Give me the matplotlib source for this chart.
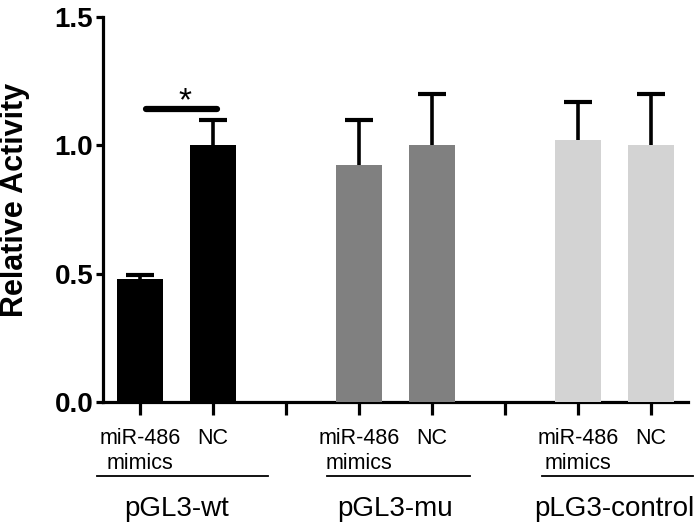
import matplotlib
matplotlib.use('Agg')
import matplotlib.pyplot as plt
import numpy as np

plt.rcParams['font.family'] = ['Liberation Sans', 'DejaVu Sans']

groups = ['pGL3-wt', 'pGL3-mu', 'pLG3-control']
conditions = ['miR-486\nmimics', 'NC']
means = [0.48, 1.00, 0.925, 1.00, 1.02, 1.00]
errs = [0.015, 0.10, 0.175, 0.20, 0.15, 0.20]
group_colors = ['#000000', '#808080', '#d3d3d3']

fig = plt.figure(figsize=(7, 5.28), dpi=100)
ax = fig.add_axes([0.147, 0.2386, 0.836, 0.7294])

# bars at 0,1 / 3,4 / 6,7 with an empty tick between groups
pos = []
cols = []
for g in range(len(groups)):
    for c in range(len(conditions)):
        pos.append(g * 3 + c)
        cols.append(group_colors[g])

ax.errorbar(pos, means, yerr=errs, fmt='none', ecolor='black',
            elinewidth=2.6, capsize=10, capthick=3, zorder=2)
ax.bar(pos, means, width=0.64, color=cols, zorder=3)

ax.set_xlim(-0.507, 7.51)
ax.set_ylim(0, 1.5)
ax.set_yticks([0, 0.5, 1.0, 1.5])
ax.set_yticklabels(['0.0', '0.5', '1.0', '1.5'], fontsize=20, fontweight='bold')
ax.set_ylabel('Relative Activity', fontsize=22, fontweight='bold')
ax.yaxis.set_label_coords(-0.124, 0.525)

ticks = np.arange(8)
labels = []
for t in ticks:
    if t % 3 == 2:
        labels.append('')
    else:
        labels.append(conditions[t % 3])
ax.set_xticks(ticks)
ax.set_xticklabels(labels, fontsize=15.5, va='top', linespacing=1.2)

for s in ['top', 'right']:
    ax.spines[s].set_visible(False)
for s in ['left', 'bottom']:
    ax.spines[s].set_linewidth(2.3)
ax.tick_params(axis='x', length=9, width=2.3, pad=10)
ax.tick_params(axis='y', length=5, width=2.3, pad=2)

# group underlines and names
spans = [(-0.59, 1.75), (2.56, 4.52), (5.51, 7.58)]
for g, name in enumerate(groups):
    ax.plot(spans[g], [-0.29, -0.29], color='black', lw=1.3, clip_on=False)
    ax.text(g * 3 + 0.5, -0.415, name, fontsize=20, ha='center', va='center')

# significance marker
ax.plot([0.08, 1.05], [1.141, 1.141], color='black', lw=4.5,
        solid_capstyle='round', clip_on=False)
ax.text(0.62, 1.135, '*', fontsize=24, ha='center', va='baseline')

fig.savefig('out.png', dpi=100)
